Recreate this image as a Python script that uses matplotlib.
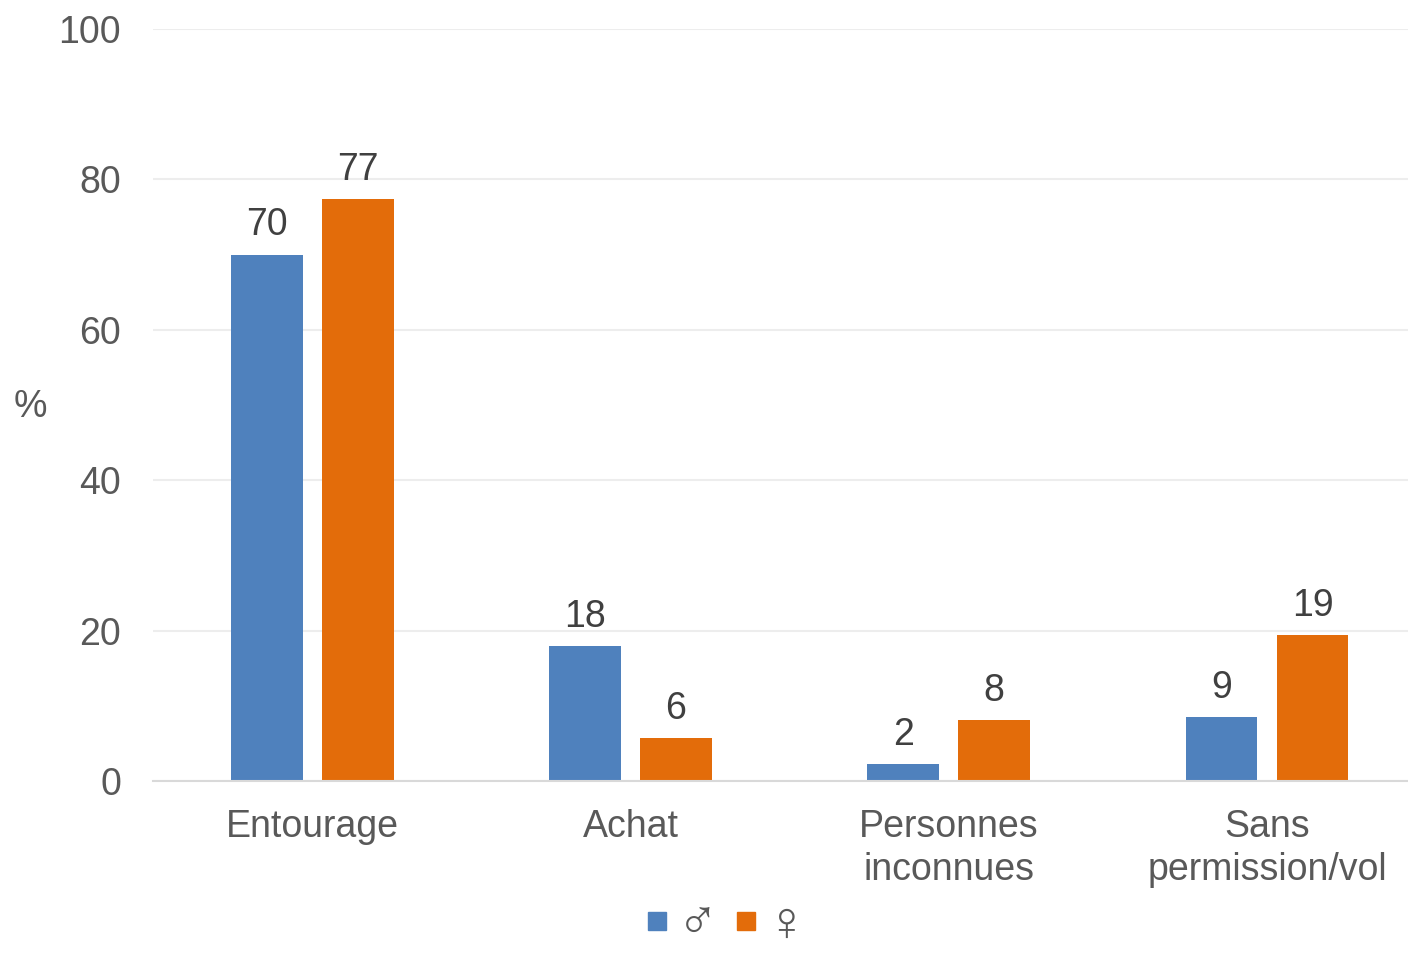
import matplotlib
matplotlib.use('Agg')
import matplotlib.pyplot as plt
from matplotlib.lines import Line2D
import numpy as np

plt.rcParams['font.family'] = ['Liberation Sans', 'DejaVu Sans']

categories = ['Entourage', 'Achat', 'Personnes\ninconnues', 'Sans\npermission/vol']
hommes = [70, 18, 2.3, 8.5]
femmes = [77.4, 5.7, 8.1, 19.4]
labels_h = ['70', '18', '2', '9']
labels_f = ['77', '6', '8', '19']

blue = '#4F81BD'
orange = '#E36C0A'

fig = plt.figure(figsize=(14.08, 9.55), dpi=100)
ax = fig.add_axes([153/1408, (955-781)/955, 1 - 153/1408, (781-29)/955])

x = np.arange(len(categories))
w = 0.226
off = 0.143
b1 = ax.bar(x - off, hommes, w, color=blue)
b2 = ax.bar(x + off, femmes, w, color=orange)

ax.bar_label(b1, labels=labels_h, padding=8, fontsize=27, color='#404040')
ax.bar_label(b2, labels=labels_f, padding=8, fontsize=27, color='#404040')

ax.set_xlim(-0.5, 3.443)
ax.set_ylim(0, 100)
ax.set_yticks([0, 20, 40, 60, 80, 100])
ax.set_xticks(x)
ax.set_xticklabels(categories, linespacing=1.25)
ax.tick_params(axis='y', length=0, pad=23, labelsize=27, labelcolor='#595959')
ax.tick_params(axis='x', length=0, pad=20, labelsize=27, labelcolor='#595959')
ax.grid(axis='y', color='#EDEDED', linewidth=1.5)
ax.set_axisbelow(True)
for s in ['top', 'right', 'left']:
    ax.spines[s].set_visible(False)
ax.spines['bottom'].set_color('#D9D9D9')
ax.spines['bottom'].set_linewidth(1.5)

fig.text(30/1408, 1 - 407/955, '%', fontsize=27, color='#595959', ha='center', va='center')

handles = [Line2D([], [], marker='s', linestyle='none', markersize=13, color=blue),
           Line2D([], [], marker='s', linestyle='none', markersize=13, color=orange)]
fig.legend(handles, ['♂', '♀'], loc='lower center', bbox_to_anchor=(728/1408, 0.0), ncol=2,
           frameon=False, fontsize=40, handlelength=0.3, handletextpad=0.2,
           columnspacing=0.35, labelcolor='#595959', borderpad=0, borderaxespad=0.05)

fig.savefig('out.png', dpi=100)
